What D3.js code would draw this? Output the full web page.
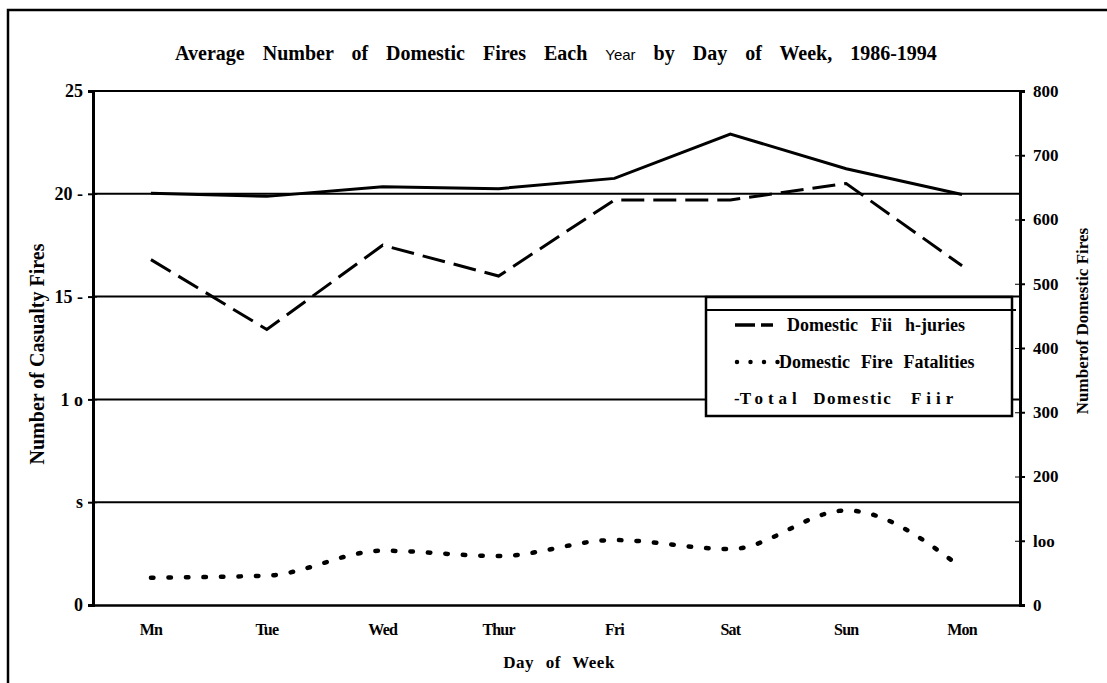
<!DOCTYPE html>
<html>
<head>
<meta charset="utf-8">
<script src="https://cdn.jsdelivr.net/npm/d3@7"></script>
<style>
  html, body { margin: 0; padding: 0; background: #fff; }
  svg { display: block; }
  text { font-family: "Liberation Serif", "Times New Roman", serif; fill: #000; }
</style>
</head>
<body>
<svg id="chart" width="1107" height="683"></svg>
<script>
// ---- data ----
const days = ["Mn", "Tue", "Wed", "Thur", "Fri", "Sat", "Sun", "Mon"];
const injuries = [16.8, 13.4, 17.5, 16.0, 19.7, 19.7, 20.5, 16.5];      // left axis
const fatalities = [1.33, 1.43, 2.64, 2.38, 3.16, 2.72, 4.6, 1.8];     // left axis
const totalFires = [641, 636, 651, 648, 664, 733, 679, 639];           // right axis
const leftTicks = [0, 5, 10, 15, 20, 25];
const leftTickLabels = ["0", "s", "1 o", "15 -", "20 -", "25"];
const rightTicks = [0, 100, 200, 300, 400, 500, 600, 700, 800];
const rightTickLabels = ["0", "loo", "200", "300", "400", "500", "600", "700", "800"];
const legendLabels = ["Domestic  Fii  h-juries", "Domestic  Fire  Fatalities", "Total  Domestic  Fiir"];

// ---- layout ----
const svg = d3.select("#chart");
const L = 93, R = 1020, T = 91, B = 605;

const x = d3.scaleBand().domain(days).range([L, R]);
const yL = d3.scaleLinear().domain([0, 25]).range([B, T]);
const yR = d3.scaleLinear().domain([0, 800]).range([B, T]);
const cx = d => x(d) + x.bandwidth() / 2;

// outer frame
svg.append("rect").attr("x", 8).attr("y", 10).attr("width", 1120).attr("height", 700)
  .attr("fill", "none").attr("stroke", "#000").attr("stroke-width", 2.5);

// title
const title = svg.append("text").attr("x", 556).attr("y", 60).attr("text-anchor", "middle")
  .attr("font-size", 20).attr("font-weight", "bold").attr("word-spacing", 13);
title.append("tspan").text("Average Number of Domestic Fires Each ");
title.append("tspan").attr("font-family", "Liberation Sans, sans-serif")
  .attr("font-weight", "normal").attr("font-size", 15).text("Year");
title.append("tspan").text(" by Day of Week, 1986-1994");

// gridlines
svg.append("g").selectAll("line").data(leftTicks.filter(d => d > 0)).join("line")
  .attr("x1", L).attr("x2", R).attr("y1", d => yL(d)).attr("y2", d => yL(d))
  .attr("stroke", "#000").attr("stroke-width", 2);

// left axis
const gL = svg.append("g").attr("transform", `translate(${L},0)`)
  .call(d3.axisLeft(yL).tickValues(leftTicks).tickFormat((d, i) => leftTickLabels[i])
    .tickSize(5).tickPadding(5));
gL.select(".domain").attr("stroke-width", 3);
gL.selectAll(".tick line").attr("stroke-width", 2);
gL.selectAll("text").attr("font-size", 18).attr("font-weight", "bold")
  .attr("font-family", "Liberation Serif, serif");
gL.append("g").call(d3.axisRight(yL).tickValues(leftTicks).tickSize(4).tickFormat(""))
  .call(g => g.select(".domain").remove());

// right axis
const gR = svg.append("g").attr("transform", `translate(${R},0)`)
  .call(d3.axisRight(yR).tickValues(rightTicks).tickFormat((d, i) => rightTickLabels[i])
    .tickSize(5).tickPadding(8));
gR.select(".domain").attr("stroke-width", 3);
gR.selectAll(".tick line").attr("stroke-width", 2);
gR.selectAll("text").attr("font-size", 17).attr("font-weight", "bold")
  .attr("font-family", "Liberation Serif, serif");
gR.append("g").call(d3.axisLeft(yR).tickValues(rightTicks).tickSize(5).tickFormat(""))
  .call(g => g.select(".domain").remove());

// bottom axis
const gB = svg.append("g").attr("transform", `translate(0,${B})`)
  .call(d3.axisBottom(x).tickSize(0).tickPadding(19));
gB.select(".domain").attr("stroke-width", 2.5);
gB.selectAll("text").attr("font-size", 16).attr("font-weight", "bold")
  .attr("letter-spacing", -0.8).attr("font-family", "Liberation Serif, serif");

// axis titles
svg.append("text").attr("transform", `translate(44,354) rotate(-90)`).attr("text-anchor", "middle")
  .attr("font-size", 20).attr("font-weight", "bold").text("Number of Casualty Fires");
svg.append("text").attr("transform", `translate(1088,321) rotate(-90)`).attr("text-anchor", "middle")
  .attr("font-size", 17).attr("font-weight", "bold").text("Numberof Domestic Fires");
svg.append("text").attr("x", 559).attr("y", 668).attr("text-anchor", "middle")
  .attr("font-size", 17).attr("font-weight", "bold").attr("word-spacing", 7).attr("letter-spacing", 0.5)
  .text("Day of Week");

// series lines
const lineL = d3.line().x((d, i) => cx(days[i])).y(d => yL(d));
const lineLSmooth = d3.line().x((d, i) => cx(days[i])).y(d => yL(d)).curve(d3.curveMonotoneX);
const lineR = d3.line().x((d, i) => cx(days[i])).y(d => yR(d));

svg.append("path").datum(totalFires).attr("d", lineR).attr("fill", "none")
  .attr("stroke", "#000").attr("stroke-width", 3);
svg.append("path").datum(injuries).attr("d", lineL).attr("fill", "none")
  .attr("stroke", "#000").attr("stroke-width", 3).attr("stroke-dasharray", "23,9");
svg.append("path").datum(fatalities).attr("d", lineLSmooth).attr("fill", "none")
  .attr("stroke", "#000").attr("stroke-width", 4.5).attr("stroke-linecap", "round")
  .attr("stroke-dasharray", "2.5,15");

// legend
const lg = svg.append("g");
lg.append("rect").attr("x", 706).attr("y", 297).attr("width", 306).attr("height", 119)
  .attr("fill", "#fff").attr("stroke", "#000").attr("stroke-width", 2.5);
lg.append("line").attr("x1", 706).attr("x2", 1016).attr("y1", 310).attr("y2", 310)
  .attr("stroke", "#000").attr("stroke-width", 2);
lg.append("line").attr("x1", 735).attr("x2", 773).attr("y1", 325).attr("y2", 325)
  .attr("stroke", "#000").attr("stroke-width", 3.5).attr("stroke-dasharray", "20,6");
lg.append("line").attr("x1", 737).attr("x2", 778).attr("y1", 362).attr("y2", 362)
  .attr("stroke", "#000").attr("stroke-width", 4.5).attr("stroke-linecap", "round")
  .attr("stroke-dasharray", "0,13.5");
lg.append("text").attr("x", 787).attr("y", 331).attr("font-size", 18).attr("font-weight", "bold")
  .attr("word-spacing", 2).attr("xml:space", "preserve").text(legendLabels[0]);
lg.append("text").attr("x", 779).attr("y", 368).attr("font-size", 18).attr("font-weight", "bold")
  .attr("word-spacing", 1).attr("xml:space", "preserve").text(legendLabels[1]);
const t3 = lg.append("text").attr("x", 734).attr("y", 404).attr("font-size", 17).attr("font-weight", "bold")
  .attr("xml:space", "preserve");
const parts3 = legendLabels[2].split("  ");
t3.append("tspan").text("-");
t3.append("tspan").attr("letter-spacing", 5).text(parts3[0]);
t3.append("tspan").attr("letter-spacing", 1.5).text("  " + parts3[1]);
t3.append("tspan").attr("letter-spacing", 5).text("  " + parts3[2]);
</script>
</body>
</html>
